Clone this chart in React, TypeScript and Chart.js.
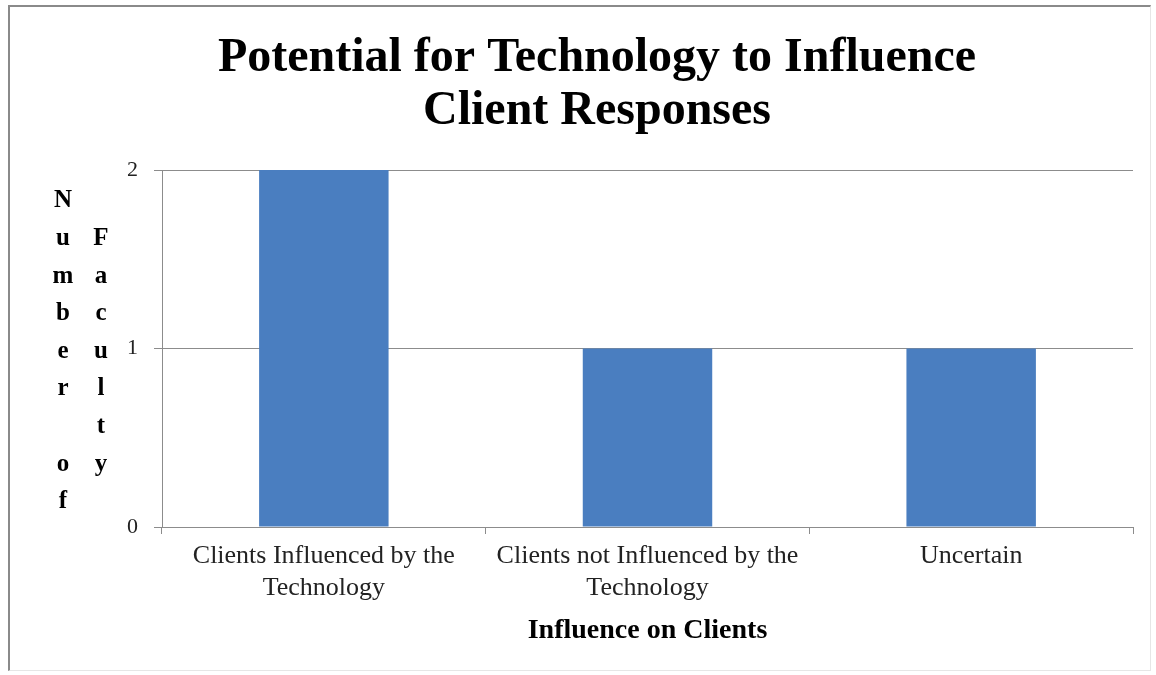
import React, { useEffect, useRef } from 'react';
import { Chart, registerables } from 'chart.js';

Chart.register(...registerables);

const categories: string[][] = [
  ['Clients Influenced by the', 'Technology'],
  ['Clients not Influenced by the', 'Technology'],
  ['Uncertain'],
];
const facultyCounts: number[] = [2, 1, 1];
const yTickValues: number[] = [0, 1, 2];
const titleLines: string[] = ['Potential for Technology to Influence', 'Client Responses'];
const xAxisTitle = 'Influence on Clients';
const yAxisTitleColumns: string[][] = [
  ['N', 'u', 'm', 'b', 'e', 'r', '', 'o', 'f'],
  ['', 'F', 'a', 'c', 'u', 'l', 't', 'y'],
];

const SERIF = "'Liberation Serif', 'Times New Roman', serif";

const stackedYTitle = {
  id: 'stackedYTitle',
  afterDraw(chart: any) {
    const { ctx, chartArea } = chart;
    ctx.save();
    ctx.font = `bold 25px ${SERIF}`;
    ctx.fillStyle = '#000';
    ctx.textAlign = 'center';
    ctx.textBaseline = 'middle';
    const colX = [chartArea.left - 99, chartArea.left - 61];
    const rowStep = 37.6;
    const firstRow = chartArea.top + 31;
    yAxisTitleColumns.forEach((col, ci) => {
      col.forEach((ch, ri) => {
        if (ch) ctx.fillText(ch, colX[ci], firstRow + ri * rowStep);
      });
    });
    ctx.restore();
  },
};

export default function App() {
  const canvasRef = useRef<HTMLCanvasElement | null>(null);

  useEffect(() => {
    if (!canvasRef.current) return;
    const chart = new Chart(canvasRef.current, {
      type: 'bar',
      data: {
        labels: categories,
        datasets: [
          {
            label: 'Number of Faculty',
            data: facultyCounts,
            backgroundColor: '#4a7ec0',
            borderWidth: 0,
            barPercentage: 0.4,
            categoryPercentage: 1,
          },
        ],
      },
      plugins: [stackedYTitle],
      options: {
        animation: false,
        responsive: true,
        maintainAspectRatio: false,
        layout: { padding: { left: 61, right: 23, top: 0, bottom: 0 } },
        plugins: {
          legend: { display: false },
          tooltip: { enabled: false },
          title: {
            display: true,
            text: titleLines,
            color: '#000',
            font: { family: SERIF, size: 48, weight: 'bold', lineHeight: 1.1 },
            padding: { top: 32, bottom: 32.4 },
          },
        },
        scales: {
          x: {
            offset: true,
            grid: {
              offset: true,
              drawOnChartArea: false,
              drawTicks: true,
              tickLength: 7,
              color: '#8c8c8c',
            },
            border: { display: true, color: '#8c8c8c' },
            ticks: {
              color: '#222',
              font: { family: SERIF, size: 26, lineHeight: 1.23 },
              padding: 6,
              maxRotation: 0,
              autoSkip: false,
            },
            title: {
              display: true,
              text: xAxisTitle,
              color: '#000',
              font: { family: SERIF, size: 28, weight: 'bold', lineHeight: 1.2 },
              padding: { top: 0, bottom: 27 },
            },
            afterFit(scale: any) {
              scale.height = 148;
            },
          },
          y: {
            min: 0,
            max: 2,
            afterBuildTicks(scale: any) {
              scale.ticks = yTickValues.map((v) => ({ value: v }));
            },
            grid: {
              color: '#8c8c8c',
              drawTicks: true,
              tickLength: 8,
            },
            border: { display: true, color: '#8c8c8c' },
            ticks: {
              color: '#222',
              font: { family: SERIF, size: 22 },
              padding: 16,
            },
            afterFit(scale: any) {
              scale.width = 101;
            },
          },
        },
      },
    });
    return () => chart.destroy();
  }, []);

  return (
    <div style={{ position: 'fixed', left: 0, top: 0, width: 1156, height: 675, background: '#fff' }}>
      <div
        style={{
          position: 'absolute',
          left: 8,
          top: 5,
          width: 1143,
          height: 666,
          borderLeft: '2px solid #8a8a8a',
          borderTop: '2px solid #8a8a8a',
          borderRight: '1px solid #e6e6e6',
          borderBottom: '1px solid #e6e6e6',
          boxSizing: 'border-box',
        }}
      />
      <div style={{ position: 'absolute', left: 0, top: 0, width: 1156, height: 675 }}>
        <canvas ref={canvasRef} />
      </div>
    </div>
  );
}
